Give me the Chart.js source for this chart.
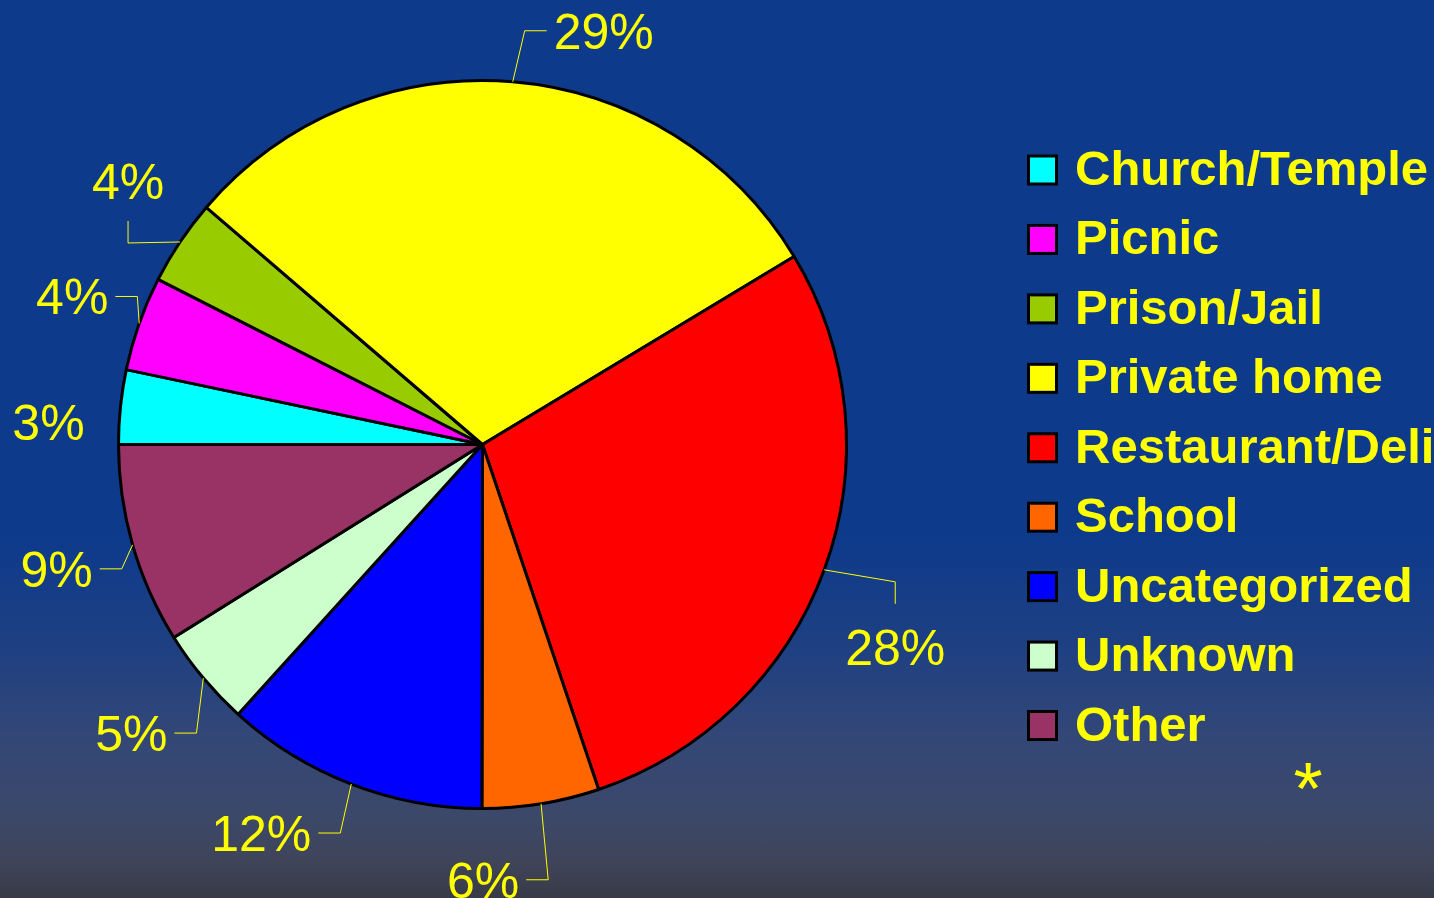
<!DOCTYPE html>
<html>
<head>
<meta charset="utf-8">
<title>Outbreak settings</title>
<script src="https://cdn.jsdelivr.net/npm/chart.js@4.4.0/dist/chart.umd.min.js"></script>
<style>
  html, body {
    margin: 0;
    padding: 0;
    width: 1434px;
    height: 898px;
    overflow: hidden;
    background: linear-gradient(to bottom, #0e3a8c 0%, #0e3a8c 60%, #1e4082 72%, #334777 82%, #3c4869 91%, #3f4459 96%, #383a47 100%);
  }
  #wrap { position: relative; width: 1434px; height: 898px; }
</style>
</head>
<body>
<div id="wrap"><canvas id="settingChart"></canvas></div>
<script>
const categories = ["Church/Temple", "Picnic", "Prison/Jail", "Private home", "Restaurant/Deli", "School", "Uncategorized", "Unknown", "Other"];
// slice sizes as drawn (share of the circle, %)
const shares = [3.3, 4.2, 3.8, 30.1, 28.5, 5.2, 11.7, 4.4, 8.9];
// percentages as printed next to each slice
const percentLabels = ["3%", "4%", "4%", "29%", "28%", "6%", "12%", "5%", "9%"];
const sliceColors = ["#00ffff", "#ff00ff", "#99cc00", "#ffff00", "#ff0000", "#ff6600", "#0000ff", "#ccffcc", "#993366"];

// label placement relative to the slice's outer edge: [dx, dy, leader side]
const labelPlacement = [
  [-72, 15, "none"],
  [-67, -27, "right"],
  [-52, -61, "bottom"],
  [91, -51, "left"],
  [71, 77, "top"],
  [-58, 76, "right"],
  [-90, 49, "right"],
  [-72, 55, "right"],
  [-76, 24, "right"]
];

const YELLOW = "#ffff00";

const outsideLabels = {
  id: "outsideLabels",
  afterDraw(chart) {
    const ctx = chart.ctx;
    const arcs = chart.getDatasetMeta(0).data;
    ctx.save();
    ctx.font = "50px 'Liberation Sans', Arial, sans-serif";
    ctx.fillStyle = YELLOW;
    ctx.strokeStyle = YELLOW;
    ctx.lineWidth = 1;
    ctx.textAlign = "center";
    ctx.textBaseline = "alphabetic";
    arcs.forEach(function (arc, i) {
      const p = arc.getProps(["x", "y", "startAngle", "endAngle", "outerRadius"], true);
      const mid = (p.startAngle + p.endAngle) / 2;
      const ax = p.x + Math.cos(mid) * p.outerRadius;
      const ay = p.y + Math.sin(mid) * p.outerRadius;
      const place = labelPlacement[i];
      const cx = ax + place[0];
      const cy = ay + place[1];
      const text = percentLabels[i];
      const w = ctx.measureText(text).width;
      ctx.fillText(text, cx, cy + 18);

      let sx, sy, ex, ey;
      if (place[2] === "right") {
        sx = cx + w / 2 + 7; sy = cy; ex = sx + 22; ey = sy;
      } else if (place[2] === "left") {
        sx = cx - w / 2 - 7; sy = cy; ex = sx - 22; ey = sy;
      } else if (place[2] === "top") {
        sx = cx; sy = cy - 43; ex = sx; ey = sy - 22;
      } else if (place[2] === "bottom") {
        sx = cx; sy = cy + 40; ex = sx; ey = sy + 22;
      } else {
        return;
      }
      ctx.beginPath();
      ctx.moveTo(sx, sy);
      ctx.lineTo(ex, ey);
      ctx.lineTo(ax, ay);
      ctx.stroke();
    });
    ctx.restore();
  }
};

const sideLegend = {
  id: "sideLegend",
  afterDraw(chart) {
    const ctx = chart.ctx;
    const labels = chart.data.labels;
    const colors = chart.data.datasets[0].backgroundColor;
    ctx.save();
    ctx.font = "bold 49px 'Liberation Sans', Arial, sans-serif";
    ctx.textAlign = "left";
    ctx.textBaseline = "alphabetic";
    labels.forEach(function (label, i) {
      const y = 170 + i * 69.44;
      ctx.fillStyle = colors[i];
      ctx.fillRect(1028.5, y - 14, 28, 28);
      ctx.strokeStyle = "#000000";
      ctx.lineWidth = 3;
      ctx.strokeRect(1028.5, y - 14, 28, 28);
      ctx.fillStyle = YELLOW;
      ctx.fillText(label, 1075, y + 15);
    });
    // footnote mark
    ctx.font = "75px 'Liberation Sans', Arial, sans-serif";
    ctx.textAlign = "center";
    ctx.fillText("*", 1308, 814);
    ctx.restore();
  }
};

document.addEventListener("DOMContentLoaded", function () {
  const ctx = document.getElementById("settingChart").getContext("2d");

  new Chart(ctx, {
    type: "pie",
    data: {
      labels: categories,
      datasets: [
        {
          data: shares,
          backgroundColor: sliceColors,
          borderColor: "#000000",
          borderWidth: 3
        }
      ]
    },
    options: {
      responsive: true,
      maintainAspectRatio: false,
      animation: false,
      rotation: 270,
      layout: {
        padding: { left: 117, right: 586, top: 79, bottom: 88 }
      },
      plugins: {
        legend: { display: false },
        tooltip: { enabled: false },
        title: { display: false }
      }
    },
    plugins: [outsideLabels, sideLegend]
  });
});
</script>
</body>
</html>
